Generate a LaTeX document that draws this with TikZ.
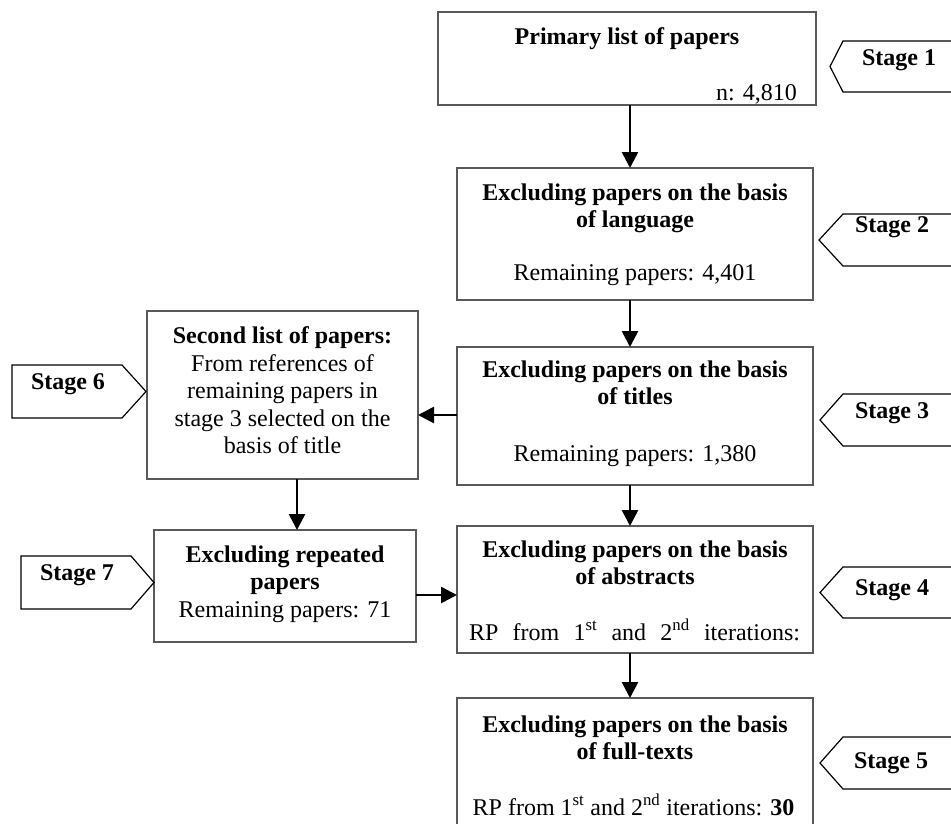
\documentclass[tikz,border=0pt]{standalone}
\usepackage{fontspec}
\setmainfont{Liberation Serif}
\usetikzlibrary{arrows.meta}
\begin{document}
\begin{tikzpicture}[x=1pt,y=-1pt,
  box/.style={draw=black!65, line width=1.2pt, inner sep=0pt, outer sep=0pt},
  txt/.style={inner sep=0pt, font=\fontsize{24}{27.5}\selectfont},
  tag/.style={draw=black, line width=1.2pt, line join=miter},
  tagtxt/.style={inner sep=0pt, anchor=base, font=\fontsize{24}{27.5}\selectfont\bfseries},
  arr/.style={line width=2.6pt, -{Triangle[length=16pt,width=16pt]}}]
\useasboundingbox (0,0) rectangle (951,823);

% boxes
\node[box, minimum width=378pt, minimum height=93pt] (b1) at (627,58.5) {};
\node[box, minimum width=356pt, minimum height=132pt] (b2) at (635,234) {};
\node[box, minimum width=356pt, minimum height=138pt] (b3) at (635,416) {};
\node[box, minimum width=356pt, minimum height=127pt] (b4) at (635,589.5) {};
\node[box, minimum width=356pt, minimum height=162pt] (b5) at (635,779) {};
\node[box, minimum width=271pt, minimum height=168pt] (b6) at (282.5,395) {};
\node[box, minimum width=262pt, minimum height=112pt] (b7) at (285,586) {};

% texts
\node[txt, anchor=base] (t1) at (627,44) {\textbf{Primary list of papers}};
\node[txt, anchor=base east] (n1) at (797,100) {n: 4,810};

\node[txt, anchor=north, align=center] (t2) at (635,183.5) {\textbf{Excluding papers on the basis}\\\textbf{of language}};
\node[txt, anchor=base] (n2) at (635,280) {Remaining papers: 4,401};

\node[txt, anchor=north, align=center] (t3) at (635,360.5) {\textbf{Excluding papers on the basis}\\\textbf{of titles}};
\node[txt, anchor=base] (n3) at (635,461) {Remaining papers: 1,380};

\node[txt, anchor=north, align=center] (t4) at (635,540.5) {\textbf{Excluding papers on the basis}\\\textbf{of abstracts}};
\node[txt, anchor=base] (n4) at (634.5,640) {\makebox[331pt][s]{RP\hfill from\hfill 1\textsuperscript{st}\hfill and\hfill 2\textsuperscript{nd}\hfill iterations:}};

\node[txt, anchor=north, align=center] (t5) at (635,715.5) {\textbf{Excluding papers on the basis}\\\textbf{of full-texts}};
\node[txt, anchor=base] (n5) at (633.5,815) {RP from 1\textsuperscript{st} and 2\textsuperscript{nd} iterations: \textbf{30}};

\node[txt, anchor=north, align=center] (t6) at (282.5,326.5) {\textbf{Second list of papers:}\\From references of\\remaining papers in\\stage 3 selected on the\\basis of title};

\node[txt, anchor=north, align=center] (t7) at (285,545.5) {\textbf{Excluding repeated}\\\textbf{papers}\\Remaining papers: 71};

% stage tags
\draw[tag] (956,41) -- (843,41) -- (830,66.5) -- (843,92) -- (956,92);
\node[tagtxt] (s1) at (899,65) {Stage 1};
\draw[tag] (956,214) -- (843,214) -- (819,240) -- (843,266) -- (956,266);
\node[tagtxt] (s2) at (892,232) {Stage 2};
\draw[tag] (956,394) -- (843,394) -- (820,420) -- (843,446) -- (956,446);
\node[tagtxt] (s3) at (892,418) {Stage 3};
\draw[tag] (956,567) -- (843,567) -- (820,592.5) -- (843,618) -- (956,618);
\node[tagtxt] (s4) at (892,595) {Stage 4};
\draw[tag] (956,737) -- (843,737) -- (820,763) -- (843,789) -- (956,789);
\node[tagtxt] (s5) at (891,768) {Stage 5};
\draw[tag] (12,365) -- (122,365) -- (146,391.5) -- (122,418) -- (12,418) -- cycle;
\node[tagtxt] (s6) at (68,389) {Stage 6};
\draw[tag] (21,556) -- (131,556) -- (154,582.5) -- (131,609) -- (21,609) -- cycle;
\node[tagtxt] (s7) at (77,580) {Stage 7};

% connectors
\coordinate (mx) at (630,0);
\coordinate (vx) at (297,0);
\coordinate (h1) at (0,415);
\coordinate (h2) at (0,595);
\draw[arr] (b1.south -| mx) -- (b2.north -| mx);
\draw[arr] (b2.south -| mx) -- (b3.north -| mx);
\draw[arr] (b3.south -| mx) -- (b4.north -| mx);
\draw[arr] (b4.south -| mx) -- (b5.north -| mx);
\draw[arr] (b3.west |- h1) -- (b6.east |- h1);
\draw[arr] (b6.south -| vx) -- (b7.north -| vx);
\draw[arr] (b7.east |- h2) -- (b4.west |- h2);
\end{tikzpicture}
\end{document}
